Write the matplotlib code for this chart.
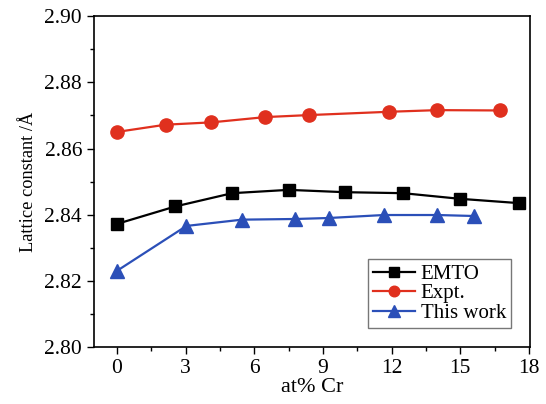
import matplotlib
matplotlib.use("Agg")
import matplotlib.pyplot as plt
from matplotlib.ticker import MultipleLocator

emto_x = [0, 2.56, 5.04, 7.50, 9.96, 12.5, 14.98, 17.55]
emto_y = [2.8372, 2.8425, 2.8465, 2.8475, 2.8468, 2.8465, 2.8448, 2.8435]

expt_x = [0, 2.13, 4.13, 6.49, 8.38, 11.88, 14.0, 16.72]
expt_y = [2.865, 2.8672, 2.8679, 2.8695, 2.8701, 2.8711, 2.8716, 2.8715]

work_x = [0, 3.04, 5.47, 7.8, 9.26, 11.66, 14.0, 15.6]
work_y = [2.823, 2.8366, 2.8385, 2.8387, 2.8390, 2.8399, 2.8399, 2.8396]

xticks = [0, 3, 6, 9, 12, 15, 18]
yticks = [2.80, 2.82, 2.84, 2.86, 2.88, 2.90]

plt.rcParams['font.family'] = ['Liberation Serif', 'DejaVu Serif']
fig = plt.figure(figsize=(5.46, 4.04), dpi=100)
ax = fig.add_axes([0.172, 0.141, 0.799, 0.819])

ax.plot(emto_x, emto_y, '-s', color='black', lw=1.6, ms=8.5, label='EMTO')
ax.plot(expt_x, expt_y, '-o', color='#e0301e', lw=1.6, ms=9.5, label='Expt.')
ax.plot(work_x, work_y, '-^', color='#2b4fb8', lw=1.6, ms=10, label='This work')

ax.set_xlim(-1, 18.05)
ax.set_ylim(2.80, 2.90)
ax.set_xticks(xticks)
ax.set_xticklabels([str(t) for t in xticks])
ax.set_yticks(yticks)
ax.set_yticklabels([f"{t:.2f}" for t in yticks])
ax.xaxis.set_minor_locator(MultipleLocator(1.5))
ax.yaxis.set_minor_locator(MultipleLocator(0.01))
ax.tick_params(axis='both', which='both', direction='out', top=False, right=False, labelsize=15.5)
ax.tick_params(which='major', length=5, width=1)
ax.tick_params(which='minor', length=3, width=1)
for s in ax.spines.values():
    s.set_linewidth(1.2)

ax.set_xlabel('at% Cr', fontsize=16, labelpad=0)
ax.set_ylabel('Lattice constant /Å', fontsize=13.2, labelpad=5)

leg = ax.legend(loc='lower right', fontsize=15, frameon=True, fancybox=False,
                edgecolor='#555555', handlelength=2.0, handletextpad=0.3,
                labelspacing=0.0, borderpad=0.25, borderaxespad=0.9, markerscale=0.8)
leg.get_frame().set_linewidth(1.0)

fig.savefig('out.png', dpi=100)
